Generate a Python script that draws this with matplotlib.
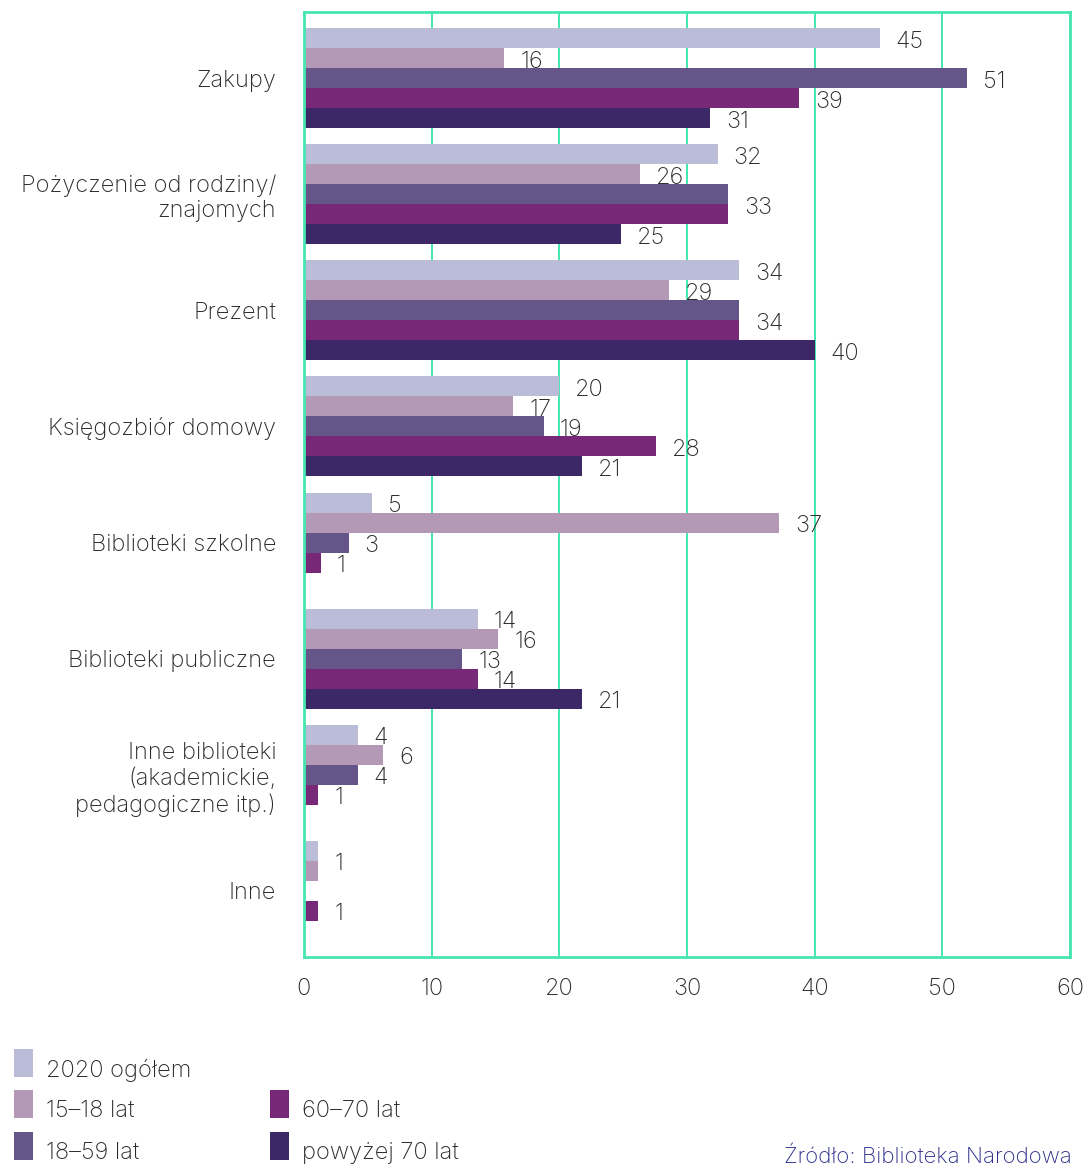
import numpy as np
import matplotlib
matplotlib.use("Agg")
import matplotlib.pyplot as plt
from matplotlib.patches import Rectangle

plt.rcParams['font.family'] = ['Inter', 'DejaVu Sans']

categories = ["Zakupy", "Pożyczenie od rodziny/\nznajomych", "Prezent", "Księgozbiór domowy",
              "Biblioteki szkolne", "Biblioteki publiczne",
              "Inne biblioteki\n(akademickie,\npedagogiczne itp.)", "Inne"]
series_names = ["2020 ogółem", "15–18 lat", "18–59 lat", "60–70 lat", "powyżej 70 lat"]
colors = ["#bbbcd8", "#b399b5", "#665588", "#772877", "#3c2866"]

nan = np.nan
# bar lengths as drawn
v_2020 = [45.1, 32.4, 34.1, 20.0, 5.3, 13.6, 4.2, 1.1]
v_15_18 = [15.7, 26.3, 28.6, 16.4, 37.2, 15.2, 6.2, 1.1]
v_18_59 = [51.9, 33.2, 34.1, 18.8, 3.5, 12.4, 4.2, nan]
v_60_70 = [38.8, 33.2, 34.1, 27.6, 1.3, 13.6, 1.1, 1.1]
v_70 = [31.8, 24.8, 40.0, 21.8, nan, 21.8, nan, nan]
# printed value labels
l_2020 = ["45", "32", "34", "20", "5", "14", "4", "1"]
l_15_18 = ["16", "26", "29", "17", "37", "16", "6", "1"]
l_18_59 = ["51", "33", "34", "19", "3", "13", "4", ""]
l_60_70 = ["39", "33", "34", "28", "1", "14", "1", "1"]
l_70 = ["31", "25", "40", "21", "", "21", "", ""]

values = [v_2020, v_15_18, v_18_59, v_60_70, v_70]
labels = [l_2020, l_15_18, l_18_59, l_60_70, l_70]

x_ticks = [0, 10, 20, 30, 40, 50, 60]
source = "Źródło: Biblioteka Narodowa"

W, H = 1088, 1168
fig = plt.figure(figsize=(W / 100, H / 100), dpi=100)
ax = fig.add_axes([304 / W, 1 - 957 / H, (1070 - 304) / W, (957 - 12) / H])

green = "#45e6b0"
text_col = "#2a2a2a"
fs = 17
fw = "light"
n_series = len(series_names)
bar_h = 0.8620 / n_series
y_base = np.arange(len(categories))
offsets = [(j - (n_series - 1) / 2) * bar_h for j in range(n_series)]

for j, (vals, col) in enumerate(zip(values, colors)):
    ax.barh(y_base + offsets[j], vals, height=bar_h, color=col, zorder=2, linewidth=0)


def put_label(text, x, y):
    ax.annotate(text, xy=(x, y), xytext=(11.5, -2.5), textcoords="offset points",
                ha="left", va="center", fontsize=fs, fontweight=fw,
                color=text_col, zorder=3)


# value labels; identical neighbouring bars share one label placed between them
for i in range(len(categories)):
    j = 0
    while j < n_series:
        v, lab = values[j][i], labels[j][i]
        if not lab or np.isnan(v):
            j += 1
            continue
        if (j + 1 < n_series and labels[j + 1][i] == lab
                and values[j + 1][i] == v):
            put_label(lab, v, i + (offsets[j] + offsets[j + 1]) / 2)
            j += 2
        else:
            put_label(lab, v, i + offsets[j])
            j += 1

ax.set_xlim(0, 60)
ax.set_ylim(len(categories) - 1 + 0.569, -0.569)
ax.set_xticks(x_ticks)
ax.set_xticklabels([str(t) for t in x_ticks], fontweight=fw)
ax.set_yticks(y_base)
ax.set_yticklabels(categories, ha="right", multialignment="right", fontweight=fw)
ax.tick_params(axis="both", length=0, labelsize=fs, labelcolor=text_col)
ax.tick_params(axis="x", pad=15)
ax.tick_params(axis="y", pad=20)
ax.grid(axis="x", color=green, linewidth=1.4, zorder=1)
ax.grid(axis="y", visible=False)
for s in ax.spines.values():
    s.set_color(green)
    s.set_linewidth(2)
    s.set_zorder(4)

# legend
leg_pos = [(14, 1063), (14, 1104), (14, 1146), (270, 1104), (270, 1146)]
for (px, py), name, col in zip(leg_pos, series_names, colors):
    fig.add_artist(Rectangle((px / W, 1 - (py + 14) / H), 19 / W, 28 / H,
                             transform=fig.transFigure, color=col, linewidth=0))
    fig.text((px + 32) / W, 1 - (py + 7) / H, name, ha="left", va="center",
             fontsize=fs, fontweight=fw, color=text_col)

fig.text(1072 / W, 1 - 1156 / H, source, ha="right", va="center",
         fontsize=16, fontweight=fw, color="#30308c")

fig.savefig("out.png", dpi=100)
